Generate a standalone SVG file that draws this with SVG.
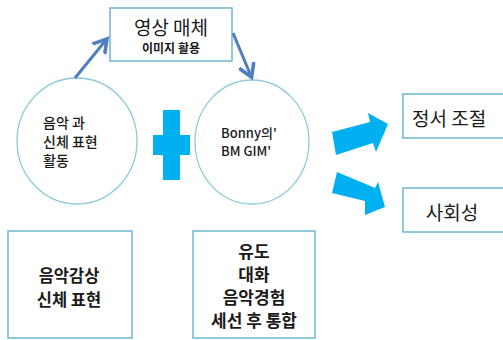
<svg xmlns="http://www.w3.org/2000/svg" width="503" height="340" viewBox="0 0 503 340">
<defs>
<style>
.box{fill:#fff;stroke:#6DB8CF;stroke-width:1.5}
.circ{fill:#fff;stroke:#8CCBDB;stroke-width:1.3}
.t{font-family:"Noto Sans CJK KR","Liberation Sans",sans-serif;fill:#1a1a1a}
.b{font-weight:bold}
.m{font-weight:500}
.blk{fill:#00B0F0}
.ln{stroke:#4F7FBF;stroke-width:3;fill:none}
</style>
<marker id="ah" markerWidth="6" markerHeight="6" refX="4" refY="3" orient="auto" markerUnits="strokeWidth">
<path d="M0,0.3 L4.5,3 L0,5.7" fill="none" stroke="#4F7FBF" stroke-width="1.2"/>
</marker>
</defs>
<rect width="503" height="340" fill="#fff"/>
<g id="media">
<rect class="box" x="110" y="8" width="122" height="53"/>
<text class="t" x="171" y="35" font-size="19" text-anchor="middle">영상 매체</text>
<text class="t b" x="171" y="53" font-size="12" text-anchor="middle">이미지 활용</text>
</g>
<g id="activity">
<ellipse class="circ" cx="77" cy="141" rx="60" ry="63"/>
<text class="t m" x="43" y="128" font-size="14">음악 과</text>
<text class="t m" x="43" y="147" font-size="14">신체 표현</text>
<text class="t m" x="43" y="166" font-size="14">활동</text>
</g>
<g id="bonny">
<ellipse class="circ" cx="252" cy="142" rx="57" ry="62"/>
<text class="t m" x="221" y="138" font-size="13">Bonny의'</text>
<text class="t m" x="221" y="156" font-size="13">BM GIM'</text>
</g>
<g id="plus">
<rect class="blk" x="163" y="110" width="17" height="70"/>
<rect class="blk" x="153" y="135" width="37" height="20"/>
</g>
<g id="emotion">
<rect class="box" x="403" y="94" width="110" height="44"/>
<text class="t" x="412" y="126" font-size="19" fill="#333">정서 조절</text>
</g>
<g id="social">
<rect class="box" x="403" y="188" width="110" height="44"/>
<text class="t" x="452" y="220" font-size="19" text-anchor="middle">사회성</text>
</g>
<g id="listen">
<rect class="box" x="8" y="231" width="124" height="107"/>
<text class="t b" x="69" y="282" font-size="16.5" text-anchor="middle">음악감상</text>
<text class="t b" x="69" y="306" font-size="16.5" text-anchor="middle">신체 표현</text>
</g>
<g id="process">
<rect class="box" x="193" y="231" width="122" height="107"/>
<text class="t b" x="254" y="258" font-size="17" text-anchor="middle">유도</text>
<text class="t b" x="254" y="281" font-size="17" text-anchor="middle">대화</text>
<text class="t b" x="254" y="304" font-size="17" text-anchor="middle">음악경험</text>
<text class="t b" x="254" y="327" font-size="17" text-anchor="middle">세선 후 통합</text>
</g>
<g id="connectors">
<line class="ln" x1="75" y1="78" x2="106" y2="40" marker-end="url(#ah)"/>
<line class="ln" x1="233" y1="33" x2="251" y2="76" marker-end="url(#ah)"/>
<polygon class="blk" points="332,132 370,122 368,113 388,124 376,152 373,143 336,155"/>
<polygon class="blk" points="337,172 375,188 378,182 385,207 365,215 365,201 332,193"/>
</g>
</svg>
